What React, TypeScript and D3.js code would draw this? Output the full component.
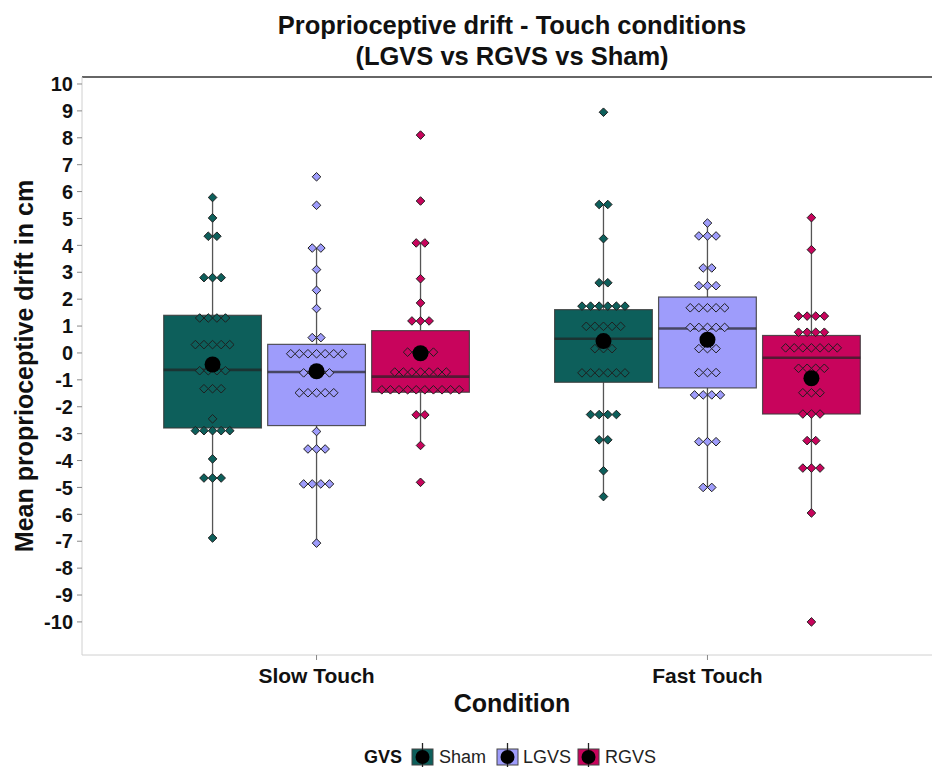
import React from "react";
import * as d3 from "d3";

const conditions = ["Slow Touch", "Fast Touch"];
const groups = ["Sham", "LGVS", "RGVS"];
const groupColors = ["#0d5f5b", "#9e9cfb", "#c8045c"];
const yTicks = d3.range(-10, 11);

// box statistics, indexed [condition][group]
const whiskerLow = [[-6.88, -7.07, -3.44], [-5.34, -5.0, -5.95]];
const q1 = [[-2.79, -2.7, -1.46], [-1.09, -1.3, -2.27]];
const medians = [[-0.63, -0.71, -0.88], [0.53, 0.91, -0.18]];
const q3 = [[1.4, 0.32, 0.83], [1.61, 2.08, 0.65]];
const whiskerHigh = [[5.78, 3.9, 4.09], [5.52, 4.83, 5.03]];
const means = [[-0.43, -0.68, -0.01], [0.44, 0.49, -0.94]];

// dot rows: [value, number of stacked dots]
const dotsSlowSham = [[5.78, 1], [5.02, 1], [4.34, 2], [2.8, 3], [1.3, 4], [0.31, 5], [-0.66, 4], [-1.33, 3], [-2.45, 1], [-2.89, 5], [-3.94, 1], [-4.65, 3], [-6.88, 1]];
const dotsSlowLGVS = [[6.55, 1], [5.49, 1], [3.9, 2], [3.1, 1], [2.33, 1], [1.65, 1], [0.57, 2], [-0.03, 7], [-0.74, 4], [-1.48, 5], [-2.92, 1], [-3.57, 3], [-4.87, 4], [-7.07, 1]];
const dotsSlowRGVS = [[8.1, 1], [5.65, 1], [4.09, 2], [2.76, 1], [1.86, 1], [1.19, 3], [0.03, 4], [-0.71, 7], [-1.37, 10], [-2.3, 2], [-3.44, 1], [-4.81, 1]];
const dotsFastSham = [[8.95, 1], [5.52, 2], [4.25, 1], [2.61, 2], [1.74, 6], [0.99, 5], [0.16, 3], [-0.74, 6], [-2.29, 4], [-3.23, 2], [-4.38, 1], [-5.34, 1]];
const dotsFastLGVS = [[4.83, 1], [4.35, 3], [3.16, 2], [2.5, 3], [1.68, 5], [0.95, 5], [0.16, 3], [-0.73, 3], [-1.56, 4], [-3.3, 3], [-5.0, 2]];
const dotsFastRGVS = [[5.03, 1], [3.84, 1], [1.37, 4], [0.77, 4], [0.19, 7], [-0.57, 4], [-1.48, 3], [-2.27, 3], [-3.26, 2], [-4.28, 3], [-5.95, 1], [-10.0, 1]];
const dotRows = [
  [dotsSlowSham, dotsSlowLGVS, dotsSlowRGVS],
  [dotsFastSham, dotsFastLGVS, dotsFastRGVS],
];

const W = 932;
const H = 767;
const panel = { left: 82, right: 942, top: 77, bottom: 655 };
const FONT = "'Liberation Sans', Arial, Helvetica, sans-serif";

export default function App() {
  const x = d3.scalePoint<string>().domain(conditions).range([panel.left, panel.right]).padding(0.6);
  const step = x.step();
  const dodge = step * 0.266;
  const boxW = step * 0.25;
  const y = d3.scaleLinear().domain([-11.23, 10.26]).range([panel.bottom, panel.top]);
  const dotStep = 8.6;
  const dr = 4.3;
  const diamond = (cx: number, cy: number) =>
    `M${cx},${cy - dr}L${cx + dr},${cy}L${cx},${cy + dr}L${cx - dr},${cy}Z`;
  const midX = (panel.left + panel.right) / 2;

  const boxes: any[] = [];
  const dots: any[] = [];
  const meanPts: any[] = [];
  conditions.forEach((c, ci) => {
    groups.forEach((g, gi) => {
      const cx = (x(c) as number) + (gi - 1) * dodge;
      const col = groupColors[gi];
      boxes.push(
        <g key={`b${ci}${gi}`}>
          <line x1={cx} x2={cx} y1={y(q3[ci][gi])} y2={y(whiskerHigh[ci][gi])} stroke="#555" strokeWidth={1.3} />
          <line x1={cx} x2={cx} y1={y(q1[ci][gi])} y2={y(whiskerLow[ci][gi])} stroke="#555" strokeWidth={1.3} />
          <rect x={cx - boxW / 2} y={y(q3[ci][gi])} width={boxW} height={y(q1[ci][gi]) - y(q3[ci][gi])} fill={col} stroke="#3a3a3a" strokeOpacity={0.85} strokeWidth={1.2} />
          <line x1={cx - boxW / 2} x2={cx + boxW / 2} y1={y(medians[ci][gi])} y2={y(medians[ci][gi])} stroke="#222" strokeOpacity={0.7} strokeWidth={2.6} />
        </g>
      );
      dotRows[ci][gi].forEach(([v, n], ri) => {
        for (let k = 0; k < n; k++) {
          const dx = (k - (n - 1) / 2) * dotStep;
          dots.push(
            <path key={`d${ci}${gi}${ri}${k}`} d={diamond(cx + dx, y(v))} fill={col} stroke="#1f1f1f" strokeWidth={1} />
          );
        }
      });
      meanPts.push(<circle key={`m${ci}${gi}`} cx={cx} cy={y(means[ci][gi])} r={8} fill="#000" />);
    });
  });

  const legendKeys = [412, 497, 578];
  const legendLabels = [439, 523, 605];

  return (
    <svg width={W} height={H} style={{ position: "absolute", left: 0, top: 0, background: "#fff" }} fontFamily={FONT}>
      <rect x={0} y={0} width={W} height={H} fill="#fff" />
      <text x={midX} y={34} textAnchor="middle" fontSize={25.5} fontWeight="bold" fill="#111">
        Proprioceptive drift - Touch conditions
      </text>
      <text x={midX} y={65} textAnchor="middle" fontSize={25.5} fontWeight="bold" fill="#111">
        (LGVS vs RGVS vs Sham)
      </text>
      {/* axes */}
      <line x1={panel.left} x2={W} y1={panel.top} y2={panel.top} stroke="#333" strokeWidth={1.6} />
      <line x1={panel.left} x2={panel.left} y1={panel.top} y2={panel.bottom} stroke="#d0d0d0" strokeWidth={1} />
      <line x1={panel.left} x2={W} y1={panel.bottom} y2={panel.bottom} stroke="#d0d0d0" strokeWidth={1} />
      {yTicks.map((t) => (
        <g key={`yt${t}`}>
          <line x1={panel.left - 5} x2={panel.left} y1={y(t)} y2={y(t)} stroke="#888" strokeWidth={1} />
          <text x={panel.left - 9} y={y(t)} dy="0.36em" textAnchor="end" fontSize={20} fontWeight="bold" fill="#111">
            {t}
          </text>
        </g>
      ))}
      {conditions.map((c) => (
        <g key={`xt${c}`}>
          <line x1={x(c)} x2={x(c)} y1={panel.bottom} y2={panel.bottom + 5} stroke="#888" strokeWidth={1} />
          <text x={x(c)} y={683} textAnchor="middle" fontSize={21} fontWeight="bold" fill="#111">
            {c}
          </text>
        </g>
      ))}
      <text x={midX} y={712} textAnchor="middle" fontSize={25} fontWeight="bold" fill="#111">
        Condition
      </text>
      <text transform={`translate(33,${(panel.top + panel.bottom) / 2}) rotate(-90)`} textAnchor="middle" fontSize={25} fontWeight="bold" fill="#111">
        Mean proprioceptive drift in cm
      </text>
      {boxes}
      {dots}
      {meanPts}
      {/* legend */}
      <text x={364} y={757} dy="0.36em" fontSize={18} fontWeight="bold" fill="#111">GVS</text>
      {groups.map((g, gi) => (
        <g key={`lg${g}`}>
          <rect x={legendKeys[gi]} y={749} width={21} height={16} fill={groupColors[gi]} stroke="#444" strokeWidth={1} />
          <line x1={legendKeys[gi] + 10.5} x2={legendKeys[gi] + 10.5} y1={743} y2={767} stroke="#222" strokeWidth={1.3} />
          <circle cx={legendKeys[gi] + 10.5} cy={757} r={7} fill="#000" />
          <text x={legendLabels[gi]} y={757} dy="0.36em" fontSize={18} fill="#222">{g}</text>
        </g>
      ))}
    </svg>
  );
}
